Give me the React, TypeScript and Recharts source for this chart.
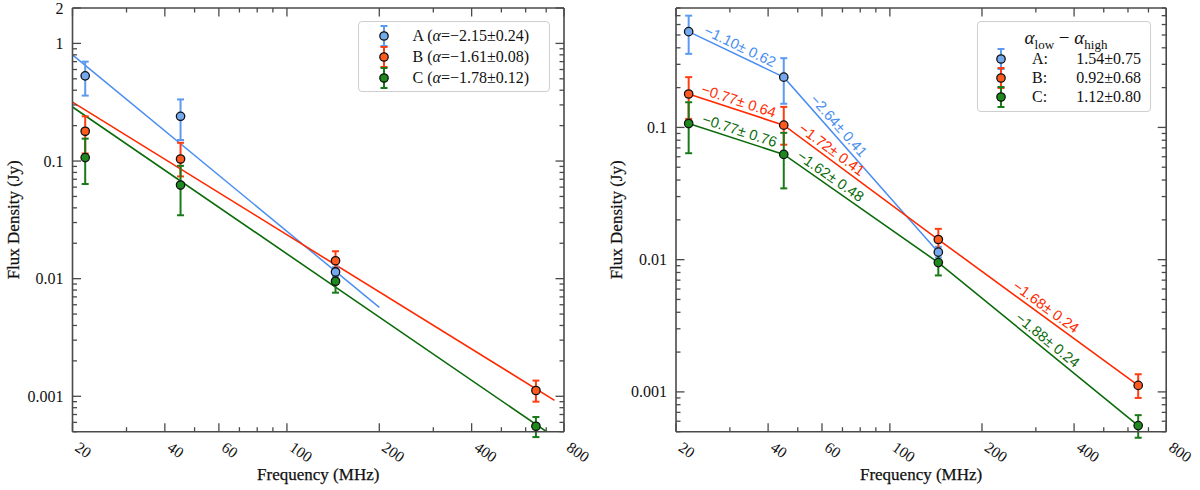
import type { ReactNode } from "react";
import { ComposedChart, ErrorBar, Label, Line, ReferenceDot, Scatter, XAxis, YAxis } from "recharts";

// 观测频率 (MHz)
const freqs = [22, 45, 144, 648];

// 各分量的流量及误差上下限 (Jy)
const fluxA = [0.53, 0.24, 0.0114];
const lowA = [0.36, 0.151, 0.0104];
const highA = [0.7, 0.334, 0.0125];

const fluxB = [0.179, 0.104, 0.0142, 0.00112];
const lowB = [0.116, 0.074, 0.0118, 0.0009];
const highB = [0.24, 0.143, 0.0171, 0.00136];

const fluxC = [0.107, 0.0625, 0.0095, 0.000556];
const lowC = [0.0638, 0.0346, 0.0076, 0.00045];
const highC = [0.155, 0.091, 0.0114, 0.000667];

// 左图幂律拟合线的两个端点 [MHz, Jy]
const fitA = [[20, 0.8], [200, 0.0057]];
const fitB = [[20, 0.317], [745, 0.000924]];
const fitC = [[20, 0.288], [702, 0.0005]];

const legendNames = ["A", "B", "C"];
const legendAlpha = ["−2.15±0.24", "−1.61±0.08", "−1.78±0.12"];
const curvature = ["1.54±0.75", "0.92±0.68", "1.12±0.80"];

// 右图每段折线上的谱指数标注
const slopeA = ["−1.10± 0.62", "−2.64± 0.41"];
const slopeB = ["−0.77± 0.64", "−1.72± 0.41", "−1.68± 0.24"];
const slopeC = ["−0.77± 0.76", "−1.62± 0.48", "−1.88± 0.24"];

const xTicks = [20, 30, 40, 50, 60, 70, 80, 90, 100, 200, 300, 400, 500, 600, 700, 800];
const xLabelled = [20, 40, 60, 100, 200, 400, 800];
const decadeSteps = [1, 2, 3, 4, 5, 6, 7, 8, 9];
const decades = [0.0001, 0.001, 0.01, 0.1, 1];
const yLabelledLeft = [0.001, 0.01, 0.1, 1, 2];
const yLabelledRight = [0.001, 0.01, 0.1];

const X_DOMAIN: [number, number] = [20, 800];
const Y_DOMAIN_LEFT: [number, number] = [0.0005, 2];
const Y_DOMAIN_RIGHT: [number, number] = [0.0005, 0.8];

const COLORS = {
  A: { line: "#4a8ef0", fill: "#74a9f0", bar: "#5b9af0" },
  B: { line: "#ff2a00", fill: "#ff5a1f", bar: "#ff3d12" },
  C: { line: "#0b6b0b", fill: "#1e8a1e", bar: "#1a7a1a" },
};

const SERIF = '"Liberation Serif", "DejaVu Serif", serif';
const SANS = '"Liberation Sans", Arial, sans-serif';
const FRAME = "#4a4a4a";

// 布局
const W = 600;
const H = 490;
const TOP_H = 8;
const BOTTOM_H = 58.3;
const LEFT_W = [72.5, 76];
const RIGHT_W = [36, 33.8];

const logTicks = (domain: [number, number]) =>
  decades
    .flatMap((d) => decadeSteps.map((s) => Number((d * s).toPrecision(3))))
    .filter((v) => v >= domain[0] * 0.999 && v <= domain[1] * 1.001);

const toPoints = (flux: number[], low: number[], high: number[]) =>
  flux.map((s, i) => ({ f: freqs[i], s, err: [s - low[i], high[i] - s] }));

const toLine = (pairs: number[][]) => pairs.map(([f, s]) => ({ f, s }));

const ptsA = toPoints(fluxA, lowA, highA);
const ptsB = toPoints(fluxB, lowB, highB);
const ptsC = toPoints(fluxC, lowC, highC);

type Side = "bottom" | "top" | "left" | "right";

function makeTick(side: Side, labelled: number[], withLabels: boolean) {
  return function Tick(props: any): ReactNode {
    const { x, y, payload } = props;
    const v = Number(payload.value);
    const major = labelled.some((m) => Math.abs(m - v) < m * 1e-6);
    const len = major ? 8.5 : 4.5;
    let tick: ReactNode = null;
    if (side === "bottom") tick = <line x1={x} y1={y} x2={x} y2={y - len} />;
    if (side === "top") tick = <line x1={x} y1={y} x2={x} y2={y + len} />;
    if (side === "left") tick = <line x1={x} y1={y} x2={x + len} y2={y} />;
    if (side === "right") tick = <line x1={x} y1={y} x2={x - len} y2={y} />;
    let text: ReactNode = null;
    if (withLabels && major && side === "bottom") {
      const tx = x + 1.5;
      const ty = y + 18;
      text = (
        <text x={tx} y={ty} transform={`rotate(35 ${tx} ${ty})`} fontSize={15.5} fontFamily={SERIF} fill="#111" stroke="none">
          {String(v)}
        </text>
      );
    }
    if (withLabels && major && side === "left") {
      text = (
        <text x={x - 9} y={y} textAnchor="end" dominantBaseline="central" fontSize={16} fontFamily={SERIF} fill="#111" stroke="none">
          {String(v)}
        </text>
      );
    }
    return (
      <g stroke={FRAME} strokeWidth={1.3}>
        {tick}
        {text}
      </g>
    );
  };
}

const xTitle = (props: any) => {
  const vb = props.viewBox;
  return (
    <text x={vb.x + vb.width / 2} y={vb.y + 43} textAnchor="middle" dominantBaseline="central" fontSize={17} fontFamily={SERIF} fill="#111" stroke="#111" strokeWidth={0.25}>
      Frequency (MHz)
    </text>
  );
};

const yTitle = (cx: number) => (props: any) => {
  const vb = props.viewBox;
  const cy = vb.y + vb.height / 2;
  return (
    <text x={cx} y={cy} transform={`rotate(-90 ${cx} ${cy})`} textAnchor="middle" dominantBaseline="central" fontSize={17} fontFamily={SERIF} fill="#111" stroke="#111" strokeWidth={0.25}>
      Flux Density (Jy)
    </text>
  );
};

const marker = (fill: string) => (p: any) => (
  <circle cx={p.cx} cy={p.cy} r={4.2} fill={fill} stroke="#111" strokeWidth={1.3} />
);

function Axes({ panel, yDomain, yLabelled }: { panel: 0 | 1; yDomain: [number, number]; yLabelled: number[] }) {
  const yTicks = logTicks(yDomain);
  return [
    <XAxis key="xb" dataKey="f" type="number" scale="log" domain={X_DOMAIN} allowDataOverflow ticks={xTicks} interval={0}
      height={BOTTOM_H} tickSize={0} tickMargin={0} tickLine={false} axisLine={{ stroke: FRAME, strokeWidth: 1.6 }}
      tick={makeTick("bottom", xLabelled, true)}>
      <Label content={xTitle} />
    </XAxis>,
    <XAxis key="xt" xAxisId="top" orientation="top" dataKey="f" type="number" scale="log" domain={X_DOMAIN} allowDataOverflow
      ticks={xTicks} interval={0} height={TOP_H} tickSize={0} tickMargin={0} tickLine={false}
      axisLine={{ stroke: FRAME, strokeWidth: 1.6 }} tick={makeTick("top", xLabelled, false)} />,
    <YAxis key="yl" dataKey="s" type="number" scale="log" domain={yDomain} allowDataOverflow ticks={yTicks} interval={0}
      width={LEFT_W[panel]} tickSize={0} tickMargin={0} tickLine={false} axisLine={{ stroke: FRAME, strokeWidth: 1.6 }}
      tick={makeTick("left", yLabelled, true)}>
      <Label content={yTitle(panel === 0 ? 14 : 17)} />
    </YAxis>,
    <YAxis key="yr" yAxisId="right" orientation="right" dataKey="s" type="number" scale="log" domain={yDomain} allowDataOverflow
      ticks={yTicks} interval={0} width={RIGHT_W[panel]} tickSize={0} tickMargin={0} tickLine={false}
      axisLine={{ stroke: FRAME, strokeWidth: 1.6 }} tick={makeTick("right", yLabelled, false)} />,
  ];
}

function pointSeries() {
  const groups = [
    { key: "A", pts: ptsA, c: COLORS.A },
    { key: "B", pts: ptsB, c: COLORS.B },
    { key: "C", pts: ptsC, c: COLORS.C },
  ];
  return groups.map((g) => (
    <Scatter key={`pts-${g.key}`} name={g.key} data={g.pts} isAnimationActive={false} shape={marker(g.c.fill)}>
      <ErrorBar dataKey="err" direction="y" width={3.5} strokeWidth={2} stroke={g.c.bar} isAnimationActive={false} />
    </Scatter>
  ));
}

function LeftPanel() {
  return (
    <ComposedChart width={W} height={H} margin={{ top: 0, right: 0, bottom: 0, left: 0 }}>
      {Axes({ panel: 0, yDomain: Y_DOMAIN_LEFT, yLabelled: yLabelledLeft })}
      <Line data={toLine(fitA)} dataKey="s" stroke={COLORS.A.line} strokeWidth={1.5} dot={false} activeDot={false} isAnimationActive={false} />
      <Line data={toLine(fitB)} dataKey="s" stroke={COLORS.B.line} strokeWidth={1.6} dot={false} activeDot={false} isAnimationActive={false} />
      <Line data={toLine(fitC)} dataKey="s" stroke={COLORS.C.line} strokeWidth={1.6} dot={false} activeDot={false} isAnimationActive={false} />
      {pointSeries()}
    </ComposedChart>
  );
}

// 标注沿线段旋转：角度按绘图区的像素比例换算对数斜率
const RIGHT_PLOT_W = W - LEFT_W[1] - RIGHT_W[1];
const PLOT_H = H - TOP_H - BOTTOM_H;
const pxPerDecX = RIGHT_PLOT_W / Math.log10(X_DOMAIN[1] / X_DOMAIN[0]);
const pxPerDecY = PLOT_H / Math.log10(Y_DOMAIN_RIGHT[1] / Y_DOMAIN_RIGHT[0]);

function segmentAngle(flux: number[], i: number) {
  const dx = Math.log10(freqs[i + 1] / freqs[i]) * pxPerDecX;
  const dy = -Math.log10(flux[i + 1] / flux[i]) * pxPerDecY;
  return (Math.atan2(dy, dx) * 180) / Math.PI;
}

// 每个标注离线段起点的距离 (px)
const alongA = [14, 34];
const alongB = [11, 14.5, 88];
const alongC = [12, 12, 95];

function slopeNotes(key: string, flux: number[], labels: string[], along: number[], color: string) {
  return labels.map((text, i) => {
    const angle = segmentAngle(flux, i);
    return (
      <ReferenceDot key={`${key}-${i}`} x={freqs[i]} y={flux[i]} r={0} ifOverflow="visible"
        shape={(p: any) => (
          <text transform={`translate(${p.cx},${p.cy}) rotate(${angle})`} x={along[i]} y={-4} fill={color} fontSize={14.6} fontFamily={SANS}>
            {text}
          </text>
        )} />
    );
  });
}

function RightPanel() {
  return (
    <ComposedChart width={W} height={H} margin={{ top: 0, right: 0, bottom: 0, left: 0 }}>
      {Axes({ panel: 1, yDomain: Y_DOMAIN_RIGHT, yLabelled: yLabelledRight })}
      <Line data={ptsA} dataKey="s" stroke={COLORS.A.line} strokeWidth={1.5} dot={false} activeDot={false} isAnimationActive={false} />
      <Line data={ptsB} dataKey="s" stroke={COLORS.B.line} strokeWidth={1.6} dot={false} activeDot={false} isAnimationActive={false} />
      <Line data={ptsC} dataKey="s" stroke={COLORS.C.line} strokeWidth={1.6} dot={false} activeDot={false} isAnimationActive={false} />
      {slopeNotes("A", fluxA, slopeA, alongA, COLORS.A.line)}
      {slopeNotes("B", fluxB, slopeB, alongB, COLORS.B.line)}
      {slopeNotes("C", fluxC, slopeC, alongC, COLORS.C.line)}
      {pointSeries()}
    </ComposedChart>
  );
}

function LegendIcon({ c }: { c: { fill: string; bar: string } }) {
  return (
    <svg width={14} height={24} style={{ display: "block" }}>
      <g stroke={c.bar} strokeWidth={2}>
        <line x1={7} y1={2} x2={7} y2={22} />
        <line x1={3.5} y1={2} x2={10.5} y2={2} />
        <line x1={3.5} y1={22} x2={10.5} y2={22} />
      </g>
      <circle cx={7} cy={12} r={4.2} fill={c.fill} stroke="#111" strokeWidth={1.3} />
    </svg>
  );
}

const legendColors = [COLORS.A, COLORS.B, COLORS.C];

const boxStyle = {
  position: "absolute" as const,
  boxSizing: "border-box" as const,
  border: "1px solid #cfcfcf",
  borderRadius: 4,
  background: "#fff",
  fontFamily: SERIF,
  color: "#111",
};

function LeftLegend() {
  const rows = [14.3, 35.8, 56];
  return (
    <div style={{ ...boxStyle, left: 357.7, top: 20.7, width: 192, height: 71.6 }}>
      {legendNames.map((name, i) => (
        <div key={name}>
          <div style={{ position: "absolute", left: 18, top: rows[i] - 12 }}>
            <LegendIcon c={legendColors[i]} />
          </div>
          <div style={{ position: "absolute", left: 53.8, top: rows[i] - 10, fontSize: 16, lineHeight: "20px", whiteSpace: "nowrap" }}>
            {name} (<i>α</i>={legendAlpha[i]})
          </div>
        </div>
      ))}
    </div>
  );
}

function RightLegend() {
  const rows = [37.8, 56.8, 75.5];
  return (
    <div style={{ ...boxStyle, left: 977, top: 20.5, width: 174, height: 91.5 }}>
      <div style={{ position: "absolute", left: 0, width: 176, top: 5, textAlign: "center", fontSize: 19, lineHeight: "22px", whiteSpace: "nowrap" }}>
        <i>α</i><sub style={{ fontSize: 13 }}>low</sub> − <i>α</i><sub style={{ fontSize: 13 }}>high</sub>
      </div>
      {legendNames.map((name, i) => (
        <div key={name}>
          <div style={{ position: "absolute", left: 16, top: rows[i] - 12 }}>
            <LegendIcon c={legendColors[i]} />
          </div>
          <div style={{ position: "absolute", left: 54, top: rows[i] - 10, fontSize: 16, lineHeight: "20px" }}>{name}:</div>
          <div style={{ position: "absolute", right: 9, top: rows[i] - 10, fontSize: 16, lineHeight: "20px" }}>{curvature[i]}</div>
        </div>
      ))}
    </div>
  );
}

export default function App() {
  return (
    <div style={{ position: "absolute", left: 0, top: 0, width: 1200, height: 490, background: "#fff", overflow: "hidden" }}>
      <div style={{ position: "absolute", left: 0, top: 0 }}>
        <LeftPanel />
      </div>
      <div style={{ position: "absolute", left: 600, top: 0 }}>
        <RightPanel />
      </div>
      <LeftLegend />
      <RightLegend />
    </div>
  );
}
